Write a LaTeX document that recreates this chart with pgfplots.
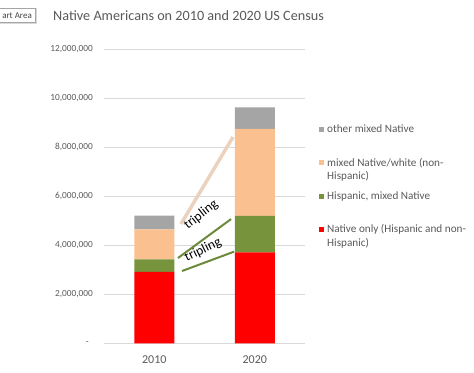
\documentclass[border=0pt]{standalone}
\usepackage{fontspec}
\setmainfont{Carlito}
\usepackage{pgfplots}
\pgfplotsset{compat=1.18}
\definecolor{txtgray}{HTML}{595959}
\definecolor{gridgray}{HTML}{D9D9D9}
\definecolor{cred}{HTML}{FF0000}
\definecolor{cgreen}{HTML}{77933C}
\definecolor{cpeach}{HTML}{FAC090}
\definecolor{cgray}{HTML}{A5A5A5}
\definecolor{peachline}{HTML}{EAD2BE}
\definecolor{gline}{HTML}{6B8A3A}
\newcommand{\lgtop}{\rule{0pt}{9bp}}
\newcommand{\lgone}{\rule[-20bp]{0pt}{0pt}}
\newcommand{\lgtwo}{\rule[-6.6bp]{0pt}{0pt}}
\begin{document}
\begin{tikzpicture}
\path[use as bounding box] (0,0) rectangle (474bp,373bp);
% tooltip remnant
\draw[gray!30, line width=1bp] (36bp,365bp)--(36bp,349.3bp)--(-5bp,349.3bp);
\draw[draw={rgb,255:red,165;green,165;blue,165}, fill=white] (-5bp,350.3bp) rectangle (35bp,365bp);
\node[anchor=base east, inner sep=0pt, font=\fontsize{9bp}{10bp}\selectfont, text={rgb,255:red,70;green,70;blue,70}] at (32bp,354.5bp) {art Area};
% title
\node[anchor=base west, inner sep=0pt, font=\fontsize{14.2bp}{16bp}\selectfont, text=txtgray] at (53bp,352.3bp) {Native Americans on 2010 and 2020 US Census};
\begin{axis}[
  at={(104bp,29.7bp)}, anchor=south west,
  scale only axis, width=201bp, height=294bp,
  ybar stacked, bar width=40bp,
  xmin=-0.5, xmax=1.5, ymin=0, ymax=12000000,
  xtick={0,1}, xticklabels={2010,2020},
  ytick={0,2000000,4000000,6000000,8000000,10000000,12000000},
  yticklabels={{-\kern4bp},{2,000,000},{4,000,000},{6,000,000},{8,000,000},{10,000,000},{12,000,000}},
  scaled y ticks=false,
  ymajorgrids, grid style={gridgray, line width=0.75bp},
  axis line style={draw=none}, major tick length=0pt,
  xticklabel style={font=\fontsize{12bp}{14bp}\selectfont, text=txtgray, inner sep=0pt, anchor=north, yshift=-12.2bp},
  yticklabel style={font=\fontsize{9.3bp}{11bp}\selectfont, text=txtgray, inner sep=0pt, anchor=east, xshift=-11bp},
  clip=false,
  reverse legend, legend cell align=left,
  legend image code/.code={\fill[#1] (0bp,1bp) rectangle (5bp,6bp);},
  legend style={draw=none, fill=none, at={(axis description cs:1.0697,0.7466)}, anchor=north west,
    inner sep=0pt, row sep=4.3bp, column sep=3bp,
    cells={anchor=base west},
    nodes={inner sep=0pt, text depth={}},
    font=\fontsize{11.2bp}{13.4bp}\selectfont, text=txtgray},
]
\addplot[fill=cred, draw=none] coordinates {(0,2920000) (1,3710000)};
\addlegendentry{\parbox[t]{150bp}{\lgtop Native only (Hispanic and non-\\Hispanic)\lgtwo}}
\addplot[fill=cgreen, draw=none] coordinates {(0,510000) (1,1490000)};
\addlegendentry{\parbox[t]{150bp}{\lgtop Hispanic, mixed Native\lgone}}
\addplot[fill=cpeach, draw=none] coordinates {(0,1220000) (1,3550000)};
\addlegendentry{\parbox[t]{150bp}{\lgtop mixed Native/white (non-\\Hispanic)\lgtwo}}
\addplot[fill=cgray, draw=none] coordinates {(0,560000) (1,880000)};
\addlegendentry{\parbox[t]{150bp}{\lgtop other mixed Native\lgone}}
% annotations
\draw[draw=peachline, line width=3.5bp] (axis cs:0.266,4870000) -- (axis cs:0.784,8420000);
\draw[draw=gline, line width=2bp] (axis cs:0.236,3480000) -- (axis cs:0.764,5070000);
\draw[draw=gline, line width=2bp] (axis cs:0.276,2950000) -- (axis cs:0.794,3740000);
\node[rotate=38, inner sep=0pt, font=\fontsize{13.5bp}{15bp}\selectfont] at (axis cs:0.465,5240000) {tripling};
\node[rotate=26, inner sep=0pt, font=\fontsize{13.5bp}{15bp}\selectfont] at (axis cs:0.485,3810000) {tripling};
\end{axis}
\end{tikzpicture}
\end{document}
